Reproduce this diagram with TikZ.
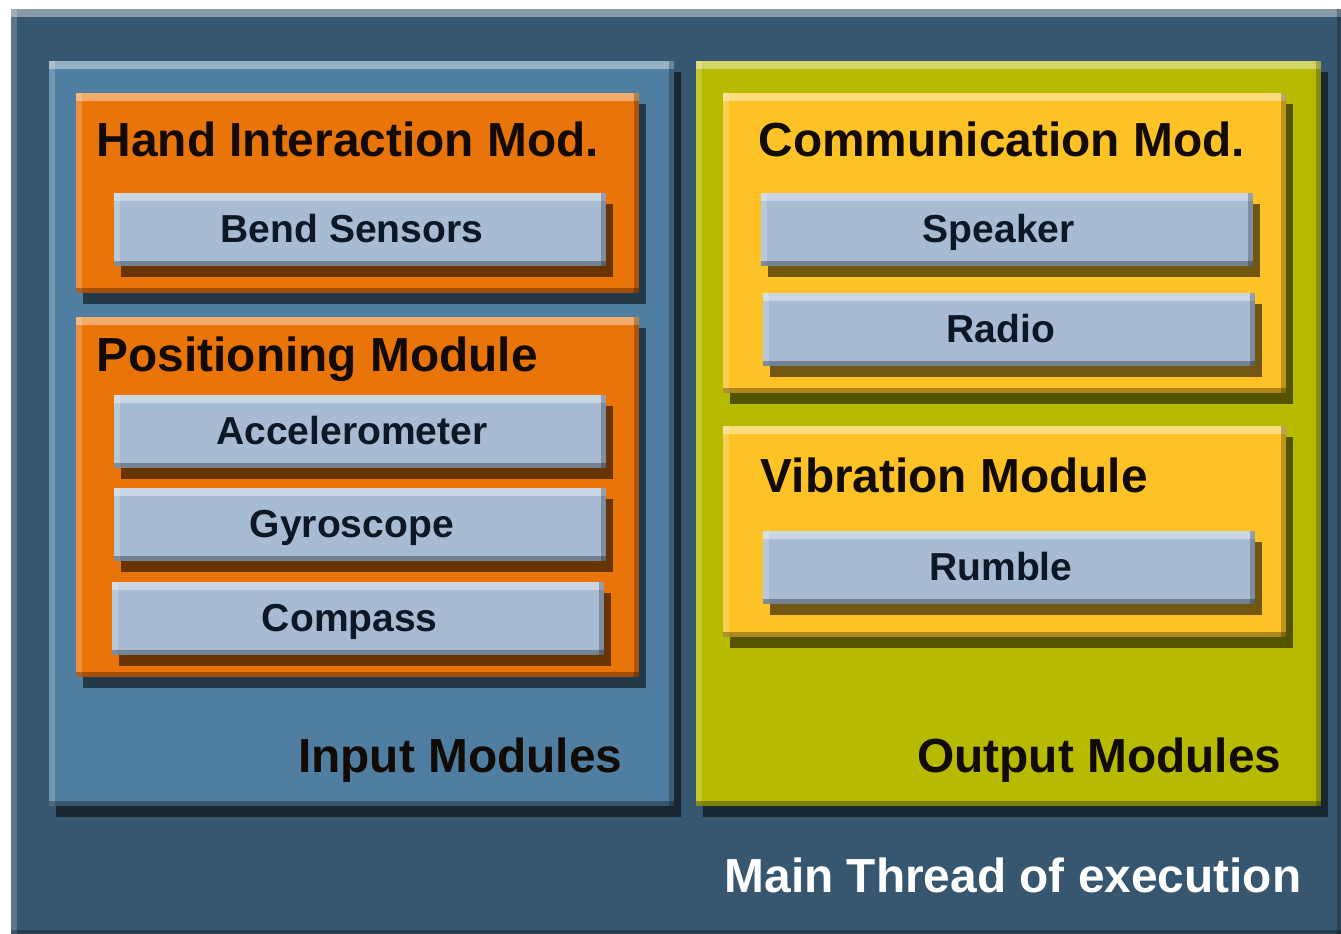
\documentclass[tikz,border=0pt]{standalone}
\usepackage{fontspec}
\setmainfont{Liberation Sans}
\usepackage{tikz}
\usetikzlibrary{shadows}

\definecolor{threadblue}{HTML}{36576F}
\definecolor{inputblue}{HTML}{4F7EA1}
\definecolor{outputgreen}{HTML}{B6BB00}
\definecolor{modorange}{HTML}{E8740A}
\definecolor{modyellow}{HTML}{FDC226}
\definecolor{partgrey}{HTML}{A7BCD3}
\definecolor{inktext}{HTML}{120A05}
\definecolor{parttext}{HTML}{0D1826}

\tikzset{
  panel/.style={rectangle, draw=none, inner sep=0pt, anchor=north west,
    path picture={
      \fill[white, opacity=.4] (path picture bounding box.north west)
        rectangle ([yshift=-.08cm]path picture bounding box.north east);
      \fill[white, opacity=.2] (path picture bounding box.north west)
        rectangle ([xshift=.06cm]path picture bounding box.south west);
      \fill[black, opacity=.3] (path picture bounding box.south west)
        rectangle ([yshift=.05cm]path picture bounding box.south east);
      \fill[black, opacity=.25] (path picture bounding box.north east)
        rectangle ([xshift=-.05cm]path picture bounding box.south east);
    }},
  shady/.style={drop shadow={shadow xshift=.07cm, shadow yshift=-.11cm,
    fill=black, opacity=.55}},
  group/.style={panel, shady, minimum width=6.25cm, minimum height=7.45cm},
  module/.style={panel, shady, minimum width=5.63cm},
  part/.style={panel, shady, fill=partgrey, minimum width=4.92cm,
    minimum height=.73cm, text=parttext, text height=.26cm, text depth=0pt,
    font=\bfseries\fontsize{11.1}{13}\selectfont,
    execute at begin node={\hspace*{-.16cm}}},
  title/.style={inner sep=0pt, text=inktext,
    font=\bfseries\fontsize{13.6}{16}\selectfont},
}

\begin{document}
\begin{tikzpicture}[x=0.01cm, y=-0.01cm]

    %% Background
    \fill[white] (0,0) rectangle (1341,934);
    \useasboundingbox (0,0) rectangle (1341,934);

    % Main thread
    \node[panel, fill=threadblue, minimum width=13.31cm, minimum height=9.26cm]
      (thread) at (10,8) {};
    \node[title, text=white, anchor=base east] (threadT) at (1302,893)
      {Main Thread of execution};

    % Input side
    \node[group, fill=inputblue] (input) at (48,60) {};
    \node[title, anchor=base east] (inputT) at (623,773) {Input Modules};

    \node[module, fill=modorange, minimum height=2cm] (hand) at (75,92) {};
    \node[title, anchor=base west] (handT) at (96,157) {Hand Interaction Mod.};
    \node[part] (bend) at (113,192) {Bend Sensors};

    \node[module, fill=modorange, minimum height=3.6cm] (pos) at (75,316) {};
    \node[title, anchor=base west] (posT) at (96,372) {Positioning Module};
    \node[part] (accel) at (113,394) {Accelerometer};
    \node[part] (gyro) at (113,487) {Gyroscope};
    \node[part] (compass) at (111,581) {Compass};

    % Output side
    \node[group, fill=outputgreen] (output) at (695,60) {};
    \node[title, anchor=base east] (outputT) at (1282,773) {Output Modules};

    \node[module, fill=modyellow, minimum height=3cm] (comm) at (722,92) {};
    \node[title, anchor=base west] (commT) at (758,157) {Communication Mod.};
    \node[part] (speaker) at (760,192) {Speaker};
    \node[part] (radio) at (762,292) {Radio};

    \node[module, fill=modyellow, minimum height=2.11cm] (vib) at (722,425) {};
    \node[title, anchor=base west] (vibT) at (760,493) {Vibration Module};
    \node[part] (rumble) at (762,530) {Rumble};

\end{tikzpicture}
\end{document}
